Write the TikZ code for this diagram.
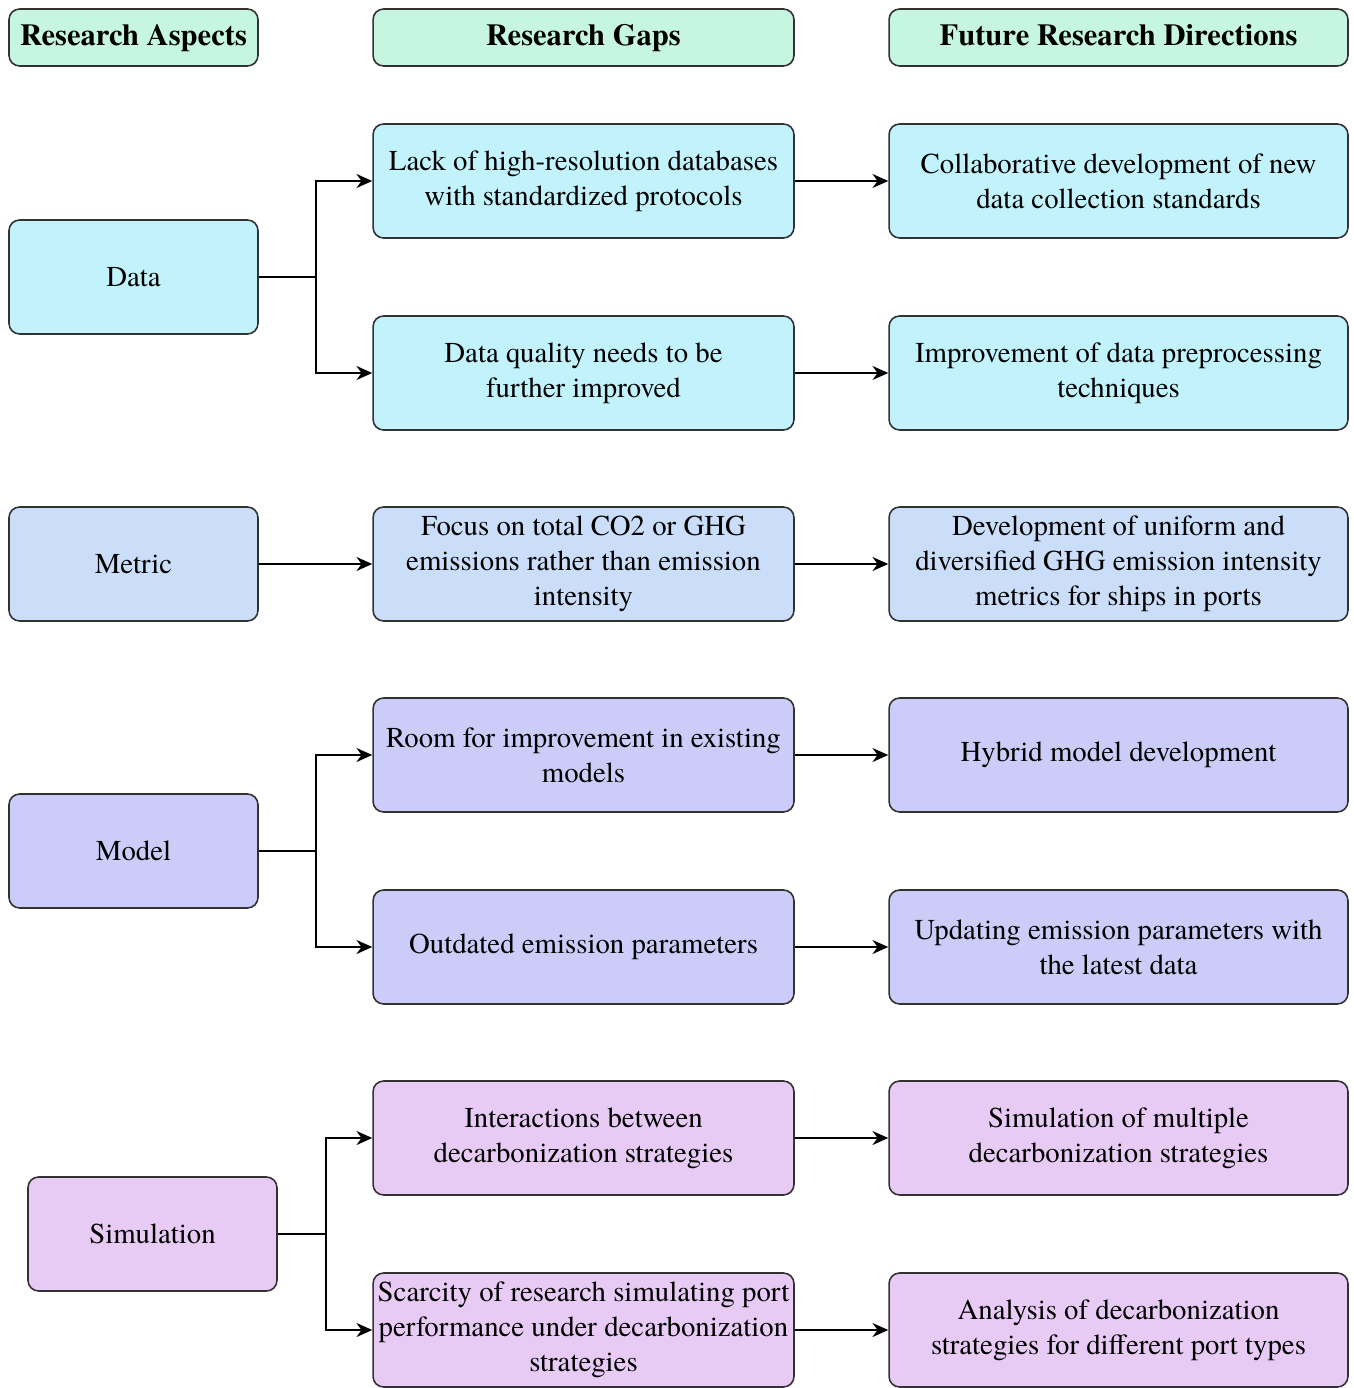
\documentclass[tikz,border=0pt]{standalone}
\usepackage{fontspec}
\setmainfont{texgyretermes}[Extension=.otf, UprightFont=*-regular, BoldFont=*-bold, ItalicFont=*-italic, BoldItalicFont=*-bolditalic]
\usetikzlibrary{arrows.meta}
\definecolor{headmint}{RGB}{198,245,225}
\definecolor{datacyan}{RGB}{194,243,252}
\definecolor{metricblue}{RGB}{202,222,249}
\definecolor{modelviolet}{RGB}{204,204,248}
\definecolor{simlilac}{RGB}{231,203,245}
\definecolor{edgegray}{RGB}{50,50,50}
\begin{document}
\begin{tikzpicture}[
    x=0.02cm, y=-0.02cm,
    font=\fontsize{16.4}{19.8}\selectfont,
    >={Stealth[length=9pt,width=8pt]},
    caja/.style={
        draw=edgegray,
        line width=0.9pt,
        rounded corners=6pt,
        minimum height=2.28cm,
        align=center,
        inner sep=1pt
    },
    aspecto/.style={caja, minimum width=4.98cm},
    brecha/.style={caja, minimum width=8.42cm},
    direccion/.style={caja, minimum width=9.18cm},
    encabezado/.style={caja, fill=headmint, minimum height=1.14cm,
        text height=1.1em, text depth=0.22em,
        font=\fontsize{17.4}{19.8}\selectfont\bfseries},
    flecha/.style={->, line width=0.9pt}
]
    \useasboundingbox (0,0) rectangle (1354,1388);

    \node[encabezado, minimum width=4.98cm] (h-aspectos) at (133.5,37.5) {Research Aspects};
    \node[encabezado, minimum width=8.42cm] (h-brechas) at (583.5,37.5) {Research Gaps};
    \node[encabezado, minimum width=9.18cm] (h-direcciones) at (1118.5,37.5) {Future Research Directions};

    \node[aspecto, fill=datacyan] (datos) at (133.5,277) {Data};
    \node[brecha, fill=datacyan] (resolucion) at (583.5,181) {Lack of high-resolution databases\\with standardized protocols};
    \node[direccion, fill=datacyan] (estandares) at (1118.5,181) {Collaborative development of new\\data collection standards};
    \node[brecha, fill=datacyan] (calidad) at (583.5,373) {Data quality needs to be\\further improved};
    \node[direccion, fill=datacyan] (preproceso) at (1118.5,373) {Improvement of data preprocessing\\techniques};
    \draw[flecha] (datos.east) -- +(57,0) |- (resolucion.west);
    \draw[flecha] (datos.east) -- +(57,0) |- (calidad.west);
    \draw[flecha] (resolucion.east) -- (estandares.west);
    \draw[flecha] (calidad.east) -- (preproceso.west);

    \node[aspecto, fill=metricblue] (metrica) at (133.5,564) {Metric};
    \node[brecha, fill=metricblue] (intensidad) at (583.5,564) {Focus on total CO2 or GHG\\emissions rather than emission\\intensity};
    \node[direccion, fill=metricblue] (metricas) at (1118.5,564) {Development of uniform and\\diversified GHG emission intensity\\metrics for ships in ports};
    \draw[flecha] (metrica.east) -- (intensidad.west);
    \draw[flecha] (intensidad.east) -- (metricas.west);

    \node[aspecto, fill=modelviolet] (modelo) at (133.5,851) {Model};
    \node[brecha, fill=modelviolet] (mejora) at (583.5,755) {Room for improvement in existing\\models};
    \node[direccion, fill=modelviolet] (hibrido) at (1118.5,755) {Hybrid model development};
    \node[brecha, fill=modelviolet] (parametros) at (583.5,947) {Outdated emission parameters};
    \node[direccion, fill=modelviolet] (actualizar) at (1118.5,947) {Updating emission parameters with\\the latest data};
    \draw[flecha] (modelo.east) -- +(57,0) |- (mejora.west);
    \draw[flecha] (modelo.east) -- +(57,0) |- (parametros.west);
    \draw[flecha] (mejora.east) -- (hibrido.west);
    \draw[flecha] (parametros.east) -- (actualizar.west);

    \node[aspecto, fill=simlilac] (simulacion) at (152.5,1234) {Simulation};
    \node[brecha, fill=simlilac] (interacciones) at (583.5,1138) {Interactions between\\decarbonization strategies};
    \node[direccion, fill=simlilac] (multiples) at (1118.5,1138) {Simulation of multiple\\decarbonization strategies};
    \node[brecha, fill=simlilac] (escasez) at (583.5,1330) {Scarcity of research simulating port\\performance under decarbonization\\strategies};
    \node[direccion, fill=simlilac] (tipos) at (1118.5,1330) {Analysis of decarbonization\\strategies for different port types};
    \draw[flecha] (simulacion.east) -- +(48,0) |- (interacciones.west);
    \draw[flecha] (simulacion.east) -- +(48,0) |- (escasez.west);
    \draw[flecha] (interacciones.east) -- (multiples.west);
    \draw[flecha] (escasez.east) -- (tipos.west);
\end{tikzpicture}
\end{document}
